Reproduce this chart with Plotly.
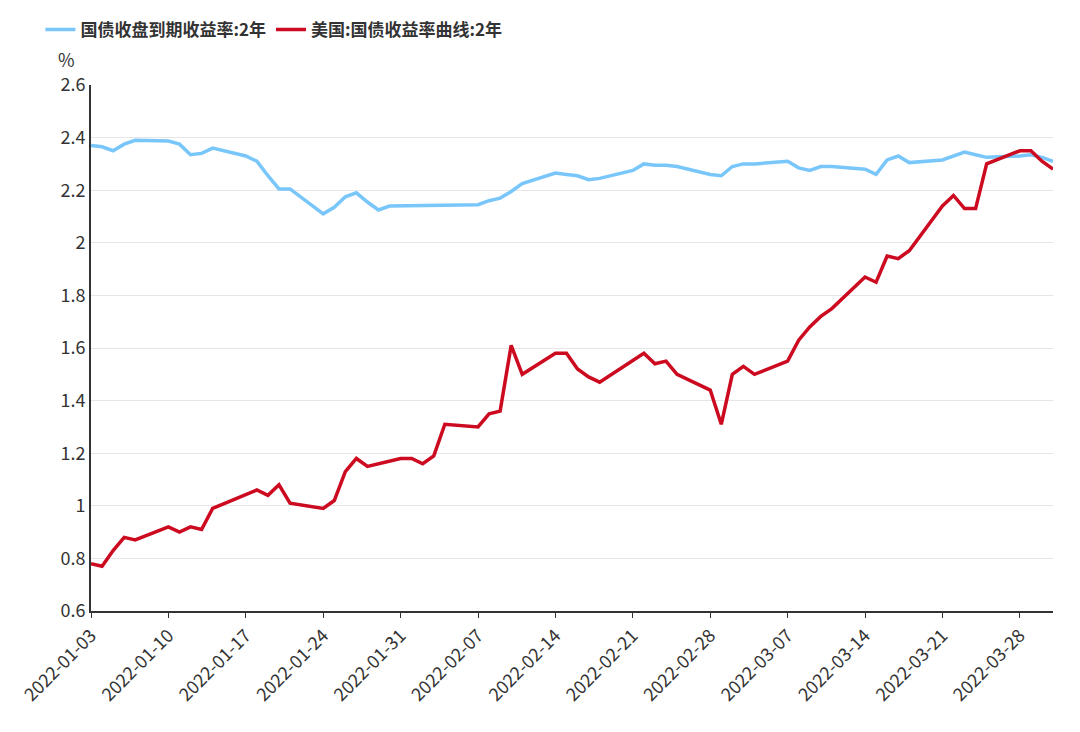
import plotly.graph_objects as go

# China 2-year treasury yield (business days, incl. 01-29/01-30 workdays)
cn_dates = ["2022-01-03", "2022-01-04", "2022-01-05", "2022-01-06", "2022-01-07",
            "2022-01-10", "2022-01-11", "2022-01-12", "2022-01-13", "2022-01-14",
            "2022-01-17", "2022-01-18", "2022-01-19", "2022-01-20", "2022-01-21",
            "2022-01-24", "2022-01-25", "2022-01-26", "2022-01-27", "2022-01-28",
            "2022-01-29", "2022-01-30",
            "2022-02-07", "2022-02-08", "2022-02-09", "2022-02-10", "2022-02-11",
            "2022-02-14", "2022-02-15", "2022-02-16", "2022-02-17", "2022-02-18",
            "2022-02-21", "2022-02-22", "2022-02-23", "2022-02-24", "2022-02-25",
            "2022-02-28", "2022-03-01", "2022-03-02", "2022-03-03", "2022-03-04",
            "2022-03-07", "2022-03-08", "2022-03-09", "2022-03-10", "2022-03-11",
            "2022-03-14", "2022-03-15", "2022-03-16", "2022-03-17", "2022-03-18",
            "2022-03-21", "2022-03-22", "2022-03-23", "2022-03-24", "2022-03-25",
            "2022-03-28", "2022-03-29", "2022-03-30", "2022-03-31"]
cn_values = [2.37, 2.365, 2.35, 2.375, 2.39,
             2.387, 2.375, 2.335, 2.34, 2.36,
             2.33, 2.31, 2.255, 2.205, 2.205,
             2.11, 2.135, 2.175, 2.19, 2.155,
             2.125, 2.14,
             2.145, 2.16, 2.17, 2.195, 2.225,
             2.265, 2.26, 2.255, 2.24, 2.245,
             2.275, 2.30, 2.295, 2.295, 2.29,
             2.26, 2.255, 2.29, 2.30, 2.30,
             2.31, 2.285, 2.275, 2.29, 2.29,
             2.28, 2.26, 2.315, 2.33, 2.305,
             2.315, 2.33, 2.345, 2.335, 2.325,
             2.33, 2.335, 2.325, 2.31]

# US 2-year treasury yield
us_dates = ["2022-01-03", "2022-01-04", "2022-01-05", "2022-01-06", "2022-01-07",
            "2022-01-10", "2022-01-11", "2022-01-12", "2022-01-13", "2022-01-14",
            "2022-01-18", "2022-01-19", "2022-01-20", "2022-01-21",
            "2022-01-24", "2022-01-25", "2022-01-26", "2022-01-27", "2022-01-28",
            "2022-01-31", "2022-02-01", "2022-02-02", "2022-02-03", "2022-02-04",
            "2022-02-07", "2022-02-08", "2022-02-09", "2022-02-10", "2022-02-11",
            "2022-02-14", "2022-02-15", "2022-02-16", "2022-02-17", "2022-02-18",
            "2022-02-22", "2022-02-23", "2022-02-24", "2022-02-25",
            "2022-02-28", "2022-03-01", "2022-03-02", "2022-03-03", "2022-03-04",
            "2022-03-07", "2022-03-08", "2022-03-09", "2022-03-10", "2022-03-11",
            "2022-03-14", "2022-03-15", "2022-03-16", "2022-03-17", "2022-03-18",
            "2022-03-21", "2022-03-22", "2022-03-23", "2022-03-24", "2022-03-25",
            "2022-03-28", "2022-03-29", "2022-03-30", "2022-03-31"]
us_values = [0.78, 0.77, 0.83, 0.88, 0.87,
             0.92, 0.90, 0.92, 0.91, 0.99,
             1.06, 1.04, 1.08, 1.01,
             0.99, 1.02, 1.13, 1.18, 1.15,
             1.18, 1.18, 1.16, 1.19, 1.31,
             1.30, 1.35, 1.36, 1.61, 1.50,
             1.58, 1.58, 1.52, 1.49, 1.47,
             1.58, 1.54, 1.55, 1.50,
             1.44, 1.31, 1.50, 1.53, 1.50,
             1.55, 1.63, 1.68, 1.72, 1.75,
             1.87, 1.85, 1.95, 1.94, 1.97,
             2.14, 2.18, 2.13, 2.13, 2.30,
             2.35, 2.35, 2.31, 2.28]

tick_dates = ["2022-01-03", "2022-01-10", "2022-01-17", "2022-01-24", "2022-01-31",
              "2022-02-07", "2022-02-14", "2022-02-21", "2022-02-28", "2022-03-07",
              "2022-03-14", "2022-03-21", "2022-03-28"]

fig = go.Figure()
fig.add_trace(go.Scatter(x=cn_dates, y=cn_values, mode="lines", name="<b>国债收盘到期收益率:2年</b>",
                         line=dict(color="#79c6fb", width=3.5)))
fig.add_trace(go.Scatter(x=us_dates, y=us_values, mode="lines", name="<b>美国:国债收益率曲线:2年</b>",
                         line=dict(color="#cc0a20", width=3.5)))

fig.update_layout(
    width=1080, height=732,
    margin=dict(l=83, r=35, t=77, b=129),
    paper_bgcolor="white", plot_bgcolor="white",
    font=dict(family="Noto Sans CJK SC", size=18, color="#333"),
    legend=dict(orientation="h", x=0.03, xanchor="left", xref="container",
                y=0.97, yanchor="middle", yref="container",
                itemwidth=30, font=dict(size=17, color="#333")),
    showlegend=True,
    annotations=[dict(text="%", xref="paper", yref="paper", x=-0.025, y=1.02,
                      xanchor="center", yanchor="bottom", showarrow=False,
                      font=dict(size=18, color="#333"))],
)
fig.update_xaxes(range=["2022-01-03", "2022-03-31"], tickvals=tick_dates, ticktext=tick_dates,
                 tickangle=-45, showgrid=False, showline=True, linecolor="#333", linewidth=2,
                 ticks="outside", ticklen=5, tickcolor="#333", tickfont=dict(size=18),
                 automargin=False)
fig.update_yaxes(range=[0.6, 2.6], dtick=0.2, tickformat="~g", showgrid=True, gridcolor="#e6e6e6",
                 showline=True, linecolor="#333", linewidth=2, zeroline=False,
                 tickfont=dict(size=18), automargin=False)

fig.write_html("out.html")
